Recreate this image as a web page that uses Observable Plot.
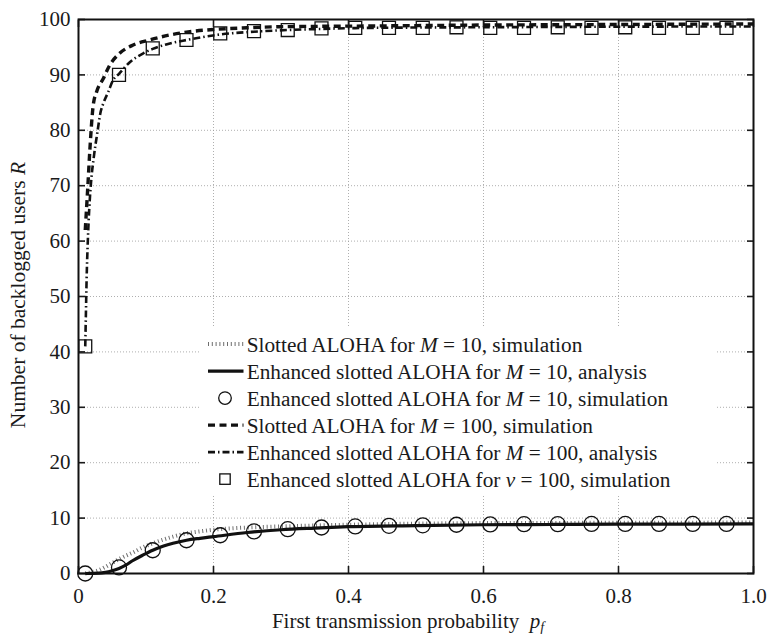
<!DOCTYPE html>
<html><head><meta charset="utf-8">
<script src="https://cdn.jsdelivr.net/npm/d3@7"></script>
<script src="https://cdn.jsdelivr.net/npm/@observablehq/plot@0.6"></script>
<style>html,body{margin:0;padding:0;background:#fff;} svg{display:block}</style>
</head><body><div id="chart"></div>
<script>
// ---- data ----
const xTicks = [0, 0.2, 0.4, 0.6, 0.8, 1.0];
const xTickLabels = ["0", "0.2", "0.4", "0.6", "0.8", "1.0"];
const yTicks = [0, 10, 20, 30, 40, 50, 60, 70, 80, 90, 100];
const yTickLabels = ["0", "10", "20", "30", "40", "50", "60", "70", "80", "90", "100"];

// Slotted ALOHA, M = 10, simulation (dotted)
const slotted10 = [[0.01,0],[0.02,0.25],[0.03,0.6],[0.04,1.2],[0.05,1.9],[0.06,2.6],[0.07,3.2],[0.08,3.75],[0.095,4.7],[0.11,5.45],[0.125,6.1],[0.14,6.65],[0.16,7.25],[0.18,7.6],[0.2,7.9],[0.25,8.3],[0.3,8.5],[0.4,8.8],[0.5,9.0],[0.6,9.1],[0.8,9.15],[1.0,9.2]];
// Enhanced slotted ALOHA, M = 10, analysis (solid)
const enhanced10 = [[0.01,0],[0.03,0.05],[0.04,0.2],[0.05,0.5],[0.06,0.9],[0.07,1.5],[0.08,2.3],[0.095,3.3],[0.11,4.2],[0.125,4.9],[0.14,5.45],[0.16,6.0],[0.18,6.35],[0.2,6.65],[0.25,7.4],[0.3,7.9],[0.35,8.2],[0.4,8.45],[0.5,8.65],[0.6,8.8],[0.7,8.85],[0.8,8.9],[0.9,8.9],[1.0,8.95]];
// Slotted ALOHA, M = 100, simulation (dashed)
const slotted100 = [[0.01,62],[0.0138,69.8],[0.0168,76.4],[0.0218,84.5],[0.027,87],[0.0366,89.3],[0.046,91.7],[0.061,93.9],[0.081,95.4],[0.105,96.3],[0.135,97.2],[0.165,97.8],[0.2,98.2],[0.25,98.5],[0.3,98.7],[0.4,98.8],[0.5,98.9],[0.6,99.0],[0.7,99.05],[0.8,99.1],[0.9,99.15],[1.0,99.2]];
// Enhanced slotted ALOHA, M = 100, analysis (dash-dot)
const enhanced100 = [[0.01,41],[0.011,47],[0.012,53],[0.0138,60],[0.016,66],[0.0185,70.5],[0.0227,75.2],[0.0277,79.4],[0.0326,83.2],[0.0366,84.8],[0.044,86.9],[0.051,89],[0.06,90.2],[0.076,92.3],[0.096,93.9],[0.11,94.7],[0.13,95.5],[0.16,96.3],[0.21,97.3],[0.26,97.8],[0.31,98.1],[0.36,98.3],[0.41,98.45],[0.5,98.55],[0.6,98.6],[0.8,98.7],[1.0,98.75]];

// simulation markers
const simX = [0.01,0.06,0.11,0.16,0.21,0.26,0.31,0.36,0.41,0.46,0.51,0.56,0.61,0.66,0.71,0.76,0.81,0.86,0.91,0.96];
const sim10 = [0,1.1,4.2,6.0,6.9,7.6,8.0,8.3,8.5,8.6,8.7,8.8,8.85,8.9,8.9,8.95,8.95,8.95,8.95,8.95];
const sim100 = [41,90,94.8,96.3,97.5,97.9,98.1,98.4,98.5,98.5,98.5,98.6,98.5,98.5,98.6,98.5,98.6,98.5,98.5,98.5];

const legendRows = [
  {parts:[["Slotted ALOHA for ",0],["M",1],[" = 10, simulation",0]], kind:"dotted"},
  {parts:[["Enhanced slotted ALOHA for ",0],["M",1],[" = 10, analysis",0]], kind:"solid"},
  {parts:[["Enhanced slotted ALOHA for ",0],["M",1],[" = 10, simulation",0]], kind:"circle"},
  {parts:[["Slotted ALOHA for ",0],["M",1],[" = 100, simulation",0]], kind:"dashed"},
  {parts:[["Enhanced slotted ALOHA for ",0],["M",1],[" = 100, analysis",0]], kind:"dashdot"},
  {parts:[["Enhanced slotted ALOHA for ",0],["v",1],[" = 100, simulation",0]], kind:"square"}
];

// ---- styles ----
const FONT = "'Liberation Serif', 'Times New Roman', serif";
const S = {
  dotted: {stroke:"#6e6e6e", strokeWidth:4, strokeDasharray:"1,2.8"},
  solid: {stroke:"#111", strokeWidth:3.2},
  dashed: {stroke:"#111", strokeWidth:3.4, strokeDasharray:"7,4.5"},
  dashdot: {stroke:"#111", strokeWidth:2.6, strokeDasharray:"7,3,1.5,3"}
};
const lineOpts = (st) => ({x: d=>d[0], y: d=>d[1], curve: "monotone-x", strokeLinecap: "butt", strokeLinejoin: "miter", ...st});

const sim10Data = simX.map((x,i)=>({x, y: sim10[i]}));
const sim100Data = simX.map((x,i)=>({x, y: sim100[i]}));

const plot = Plot.plot({
  width: 771, height: 634,
  marginLeft: 78, marginRight: 18, marginTop: 19, marginBottom: 61,
  style: "font-family: 'Liberation Serif', 'Times New Roman', serif; font-size: 21px; color: #1a1a1a; background: #fff; overflow: visible;",
  x: {domain: [0, 1]},
  y: {domain: [0, 100]},
  marks: [
    Plot.gridX(xTicks, {stroke: "#9a9a9a", strokeOpacity: 1, strokeWidth: 0.8, strokeDasharray: "1,2"}),
    Plot.gridY(yTicks, {stroke: "#9a9a9a", strokeOpacity: 1, strokeWidth: 0.8, strokeDasharray: "1,2"}),
    Plot.line(slotted10, lineOpts(S.dotted)),
    Plot.line(enhanced10, lineOpts(S.solid)),
    Plot.line(slotted100, lineOpts(S.dashed)),
    Plot.line(enhanced100, lineOpts(S.dashdot)),
    Plot.dot(sim10Data, {x: "x", y: "y", r: 7.5, stroke: "#111", strokeWidth: 1.3, fill: "none"}),
    Plot.dot(sim100Data, {x: "x", y: "y", r: 7.3, symbol: "square", stroke: "#111", strokeWidth: 1.3, fill: "none"}),
    Plot.axisX({ticks: xTicks, tickSize: -7, tickPadding: 22, strokeWidth: 1.6, tickFormat: (d)=>xTickLabels[xTicks.indexOf(d)], label: null}),
    Plot.axisX({ticks: xTicks, anchor: "top", tickSize: -7, strokeWidth: 1.6, tickFormat: ()=>"", label: null}),
    Plot.axisY({ticks: yTicks, tickSize: -7, tickPadding: 15, strokeWidth: 1.6, tickFormat: (d)=>yTickLabels[yTicks.indexOf(d)], label: null}),
    Plot.axisY({ticks: yTicks, anchor: "right", tickSize: -7, strokeWidth: 1.6, tickFormat: ()=>"", label: null}),
    Plot.frame({stroke: "#111", strokeWidth: 2})
  ]
});
document.getElementById("chart").appendChild(plot);

const svg = d3.select(plot);
// force serif font on the tick labels
svg.selectAll("text").style("font-family", FONT).style("font-size", "21px").style("fill", "#1a1a1a");

// ---- legend (white box, no border) ----
const lg = svg.append("g").attr("text-anchor", "start");
lg.append("rect").attr("x", 200).attr("y", 328).attr("width", 517).attr("height", 167).attr("fill", "#ffffff").attr("stroke", "none");
const base0 = 351.7, step = 27;
legendRows.forEach((row, i) => {
  const by = base0 + i * step, cy = by - 7.6;
  const g = lg.append("g");
  if (row.kind === "circle") {
    g.append("circle").attr("cx", 225).attr("cy", cy).attr("r", 6.3).attr("fill", "none").attr("stroke", "#111").attr("stroke-width", 1.3);
  } else if (row.kind === "square") {
    g.append("rect").attr("x", 225 - 5.2).attr("y", cy - 5.2).attr("width", 10.4).attr("height", 10.4).attr("fill", "none").attr("stroke", "#111").attr("stroke-width", 1.3);
  } else {
    const st = S[row.kind];
    g.append("line").attr("x1", 208).attr("x2", 243.5).attr("y1", cy).attr("y2", cy)
      .attr("stroke", st.stroke).attr("stroke-width", st.strokeWidth)
      .attr("stroke-dasharray", st.strokeDasharray || null).attr("stroke-linecap", "butt");
  }
  const t = g.append("text").attr("x", 246.7).attr("y", by).attr("text-anchor", "start")
    .style("font-family", FONT).style("font-size", "21.3px").style("fill", "#1a1a1a");
  row.parts.forEach(([s, it]) => t.append("tspan").attr("font-style", it ? "italic" : "normal").text(s));
});

// ---- axis titles ----
const xt = svg.append("text").style("font-family", FONT).style("font-size", "21px").style("fill", "#1a1a1a")
  .attr("text-anchor", "middle").attr("x", 408).attr("y", 628);
xt.append("tspan").text("First transmission probability\u00a0\u00a0");
xt.append("tspan").attr("font-style", "italic").text("p");
xt.append("tspan").attr("font-style", "italic").style("font-size", "14px").attr("dy", 4).text("f");

const yt = svg.append("text").style("font-family", FONT).style("font-size", "21.5px").style("fill", "#1a1a1a")
  .attr("text-anchor", "middle").attr("transform", "translate(25,295) rotate(-90)");
yt.append("tspan").text("Number of backlogged users ");
yt.append("tspan").attr("font-style", "italic").text("R");
</script>
</body></html>
